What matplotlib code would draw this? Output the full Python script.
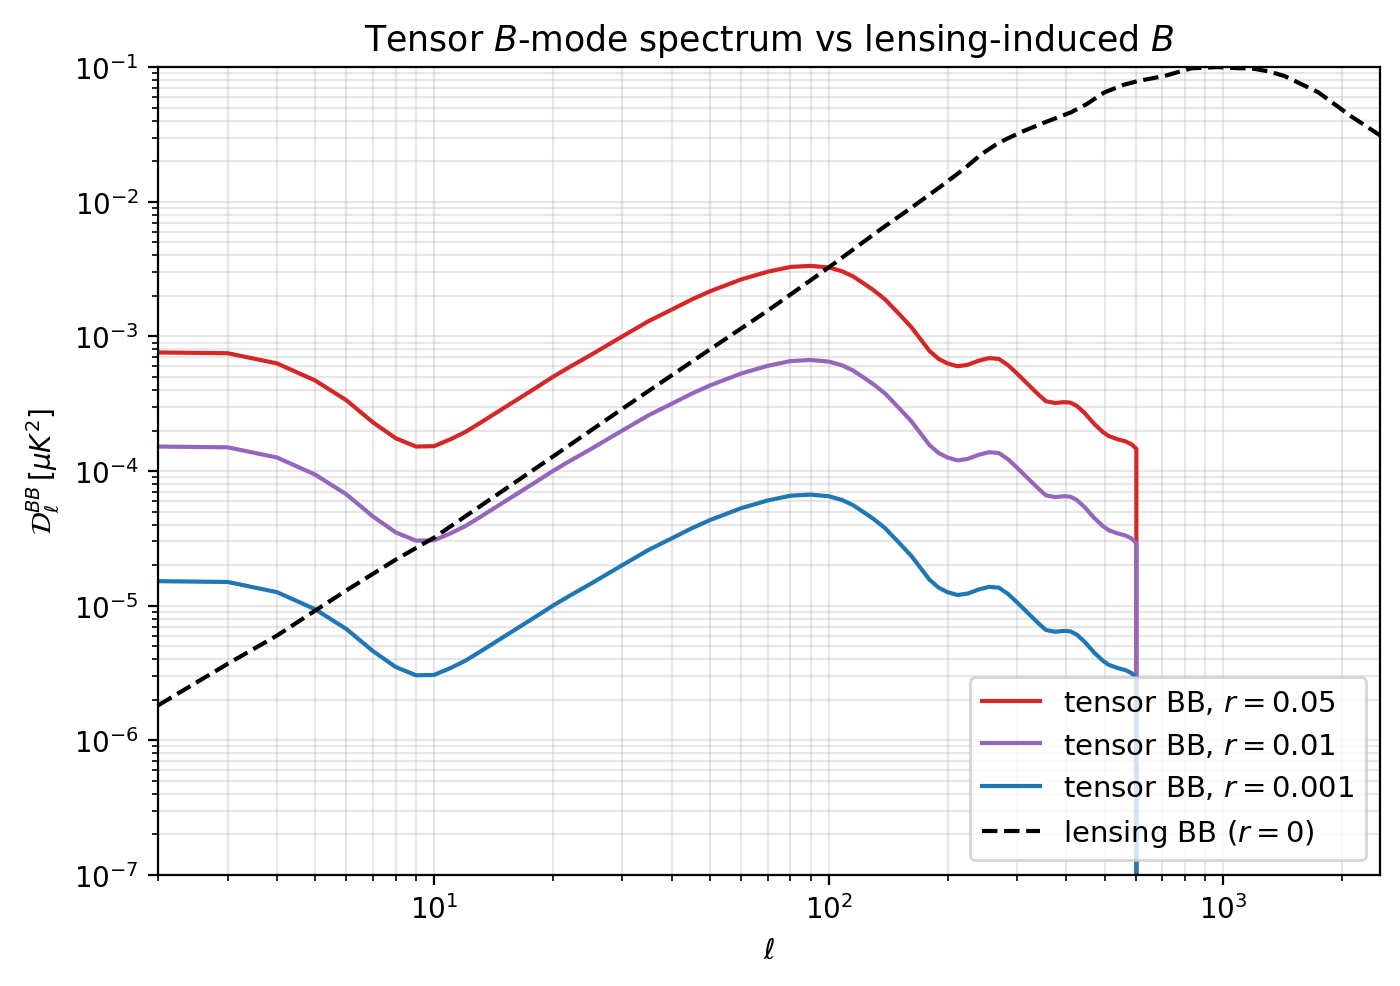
import numpy as np
import matplotlib
matplotlib.use("Agg")
import matplotlib.pyplot as plt

# --- Data ---
ell_tensor = [2, 3, 4, 5, 6, 7, 8, 9, 10, 11,
              12, 13, 14, 16, 18, 20, 22, 25, 30, 35,
              40, 45, 50, 60, 70, 80, 90, 100, 108, 115,
              122, 130, 139, 150, 162, 172, 180, 190, 200, 212,
              225, 240, 255, 270, 285, 300, 320, 340, 355, 375,
              395, 410, 425, 445, 470, 495, 512, 540, 565, 585,
              602, 603]

bb_r005 = [7.6e-4, 7.5e-4, 6.3e-4, 4.7e-4, 3.35e-4, 2.3e-4, 1.75e-4, 1.52e-4, 1.53e-4, 1.72e-4,
           1.95e-4, 2.25e-4, 2.58e-4, 3.3e-4, 4.1e-4, 5.0e-4, 5.9e-4, 7.3e-4, 1.0e-3, 1.3e-3,
           1.58e-3, 1.88e-3, 2.16e-3, 2.65e-3, 3.02e-3, 3.28e-3, 3.34e-3, 3.25e-3, 3.05e-3, 2.8e-3,
           2.5e-3, 2.2e-3, 1.88e-3, 1.49e-3, 1.17e-3, 9.3e-4, 7.8e-4, 6.8e-4, 6.3e-4, 6.0e-4,
           6.15e-4, 6.6e-4, 6.9e-4, 6.8e-4, 6.1e-4, 5.3e-4, 4.4e-4, 3.7e-4, 3.3e-4, 3.2e-4,
           3.25e-4, 3.22e-4, 3.05e-4, 2.7e-4, 2.25e-4, 1.95e-4, 1.82e-4, 1.72e-4, 1.66e-4, 1.58e-4,
           1.46e-4, 0.0]

bb_r001 = [1.52e-4, 1.50e-4, 1.26e-4, 9.4e-5, 6.7e-5, 4.6e-5, 3.5e-5, 3.04e-5, 3.06e-5, 3.44e-5,
           3.9e-5, 4.5e-5, 5.16e-5, 6.6e-5, 8.2e-5, 1.0e-4, 1.18e-4, 1.46e-4, 2.0e-4, 2.6e-4,
           3.16e-4, 3.76e-4, 4.32e-4, 5.3e-4, 6.04e-4, 6.56e-4, 6.68e-4, 6.5e-4, 6.1e-4, 5.6e-4,
           5.0e-4, 4.4e-4, 3.76e-4, 2.98e-4, 2.34e-4, 1.86e-4, 1.56e-4, 1.36e-4, 1.26e-4, 1.2e-4,
           1.23e-4, 1.32e-4, 1.38e-4, 1.36e-4, 1.22e-4, 1.06e-4, 8.8e-5, 7.4e-5, 6.6e-5, 6.4e-5,
           6.5e-5, 6.44e-5, 6.1e-5, 5.4e-5, 4.5e-5, 3.9e-5, 3.64e-5, 3.44e-5, 3.32e-5, 3.16e-5,
           2.92e-5, 0.0]

bb_r0001 = [1.52e-5, 1.50e-5, 1.26e-5, 9.4e-6, 6.7e-6, 4.6e-6, 3.5e-6, 3.04e-6, 3.06e-6, 3.44e-6,
            3.9e-6, 4.5e-6, 5.16e-6, 6.6e-6, 8.2e-6, 1.0e-5, 1.18e-5, 1.46e-5, 2.0e-5, 2.6e-5,
            3.16e-5, 3.76e-5, 4.32e-5, 5.3e-5, 6.04e-5, 6.56e-5, 6.68e-5, 6.5e-5, 6.1e-5, 5.6e-5,
            5.0e-5, 4.4e-5, 3.76e-5, 2.98e-5, 2.34e-5, 1.86e-5, 1.56e-5, 1.36e-5, 1.26e-5, 1.2e-5,
            1.23e-5, 1.32e-5, 1.38e-5, 1.36e-5, 1.22e-5, 1.06e-5, 8.8e-6, 7.4e-6, 6.6e-6, 6.4e-6,
            6.5e-6, 6.44e-6, 6.1e-6, 5.4e-6, 4.5e-6, 3.9e-6, 3.64e-6, 3.44e-6, 3.32e-6, 3.16e-6,
            2.92e-6, 0.0]

ell_lens = [2, 3, 4, 5, 6, 8, 10, 15, 20, 30, 50, 70, 100, 136, 160, 193, 220,
            244, 270, 308, 350, 410, 450, 500, 560, 610, 710, 830, 970, 1100,
            1177, 1300, 1427, 1740, 2110, 2500]

bb_lens = [1.82e-6, 3.7e-6, 6.0e-6, 9.2e-6, 1.3e-5, 2.2e-5, 3.2e-5, 7.2e-5,
           1.28e-4, 2.9e-4, 8.0e-4, 1.55e-3, 3.25e-3, 6.3e-3, 8.8e-3, 1.31e-2,
           1.75e-2, 2.26e-2, 2.75e-2, 3.3e-2, 3.85e-2, 4.6e-2, 5.3e-2, 6.5e-2,
           7.4e-2, 7.9e-2, 8.6e-2, 9.8e-2, 1.0e-1, 9.8e-2, 9.8e-2, 9.3e-2,
           8.6e-2, 6.5e-2, 4.3e-2, 3.1e-2]

# --- Plot ---
fig, ax = plt.subplots(figsize=(7, 4.935), dpi=200)
fig.subplots_adjust(left=0.113, right=0.986, bottom=0.1125, top=0.931)

ax.loglog(ell_tensor, bb_r005, color="tab:red", lw=1.5, label=r"tensor BB, $r=0.05$")
ax.loglog(ell_tensor, bb_r001, color="tab:purple", lw=1.5, label=r"tensor BB, $r=0.01$")
ax.loglog(ell_tensor, bb_r0001, color="tab:blue", lw=1.5, label=r"tensor BB, $r=0.001$")
ax.loglog(ell_lens, bb_lens, "k--", lw=1.5, label=r"lensing BB ($r=0$)")

ax.set_xlim(2, 2500)
ax.set_ylim(1e-7, 1e-1)
ax.set_xlabel(r"$\ell$")
ax.set_ylabel(r"$\mathcal{D}_\ell^{BB}\,[\mu K^2]$")
ax.set_title(r"Tensor $B$-mode spectrum vs lensing-induced $B$", fontsize=12.5)
ax.grid(True, which="both", alpha=0.3)
ax.legend(loc="lower right", fontsize=10.5)

fig.savefig("out.png", dpi=200)
